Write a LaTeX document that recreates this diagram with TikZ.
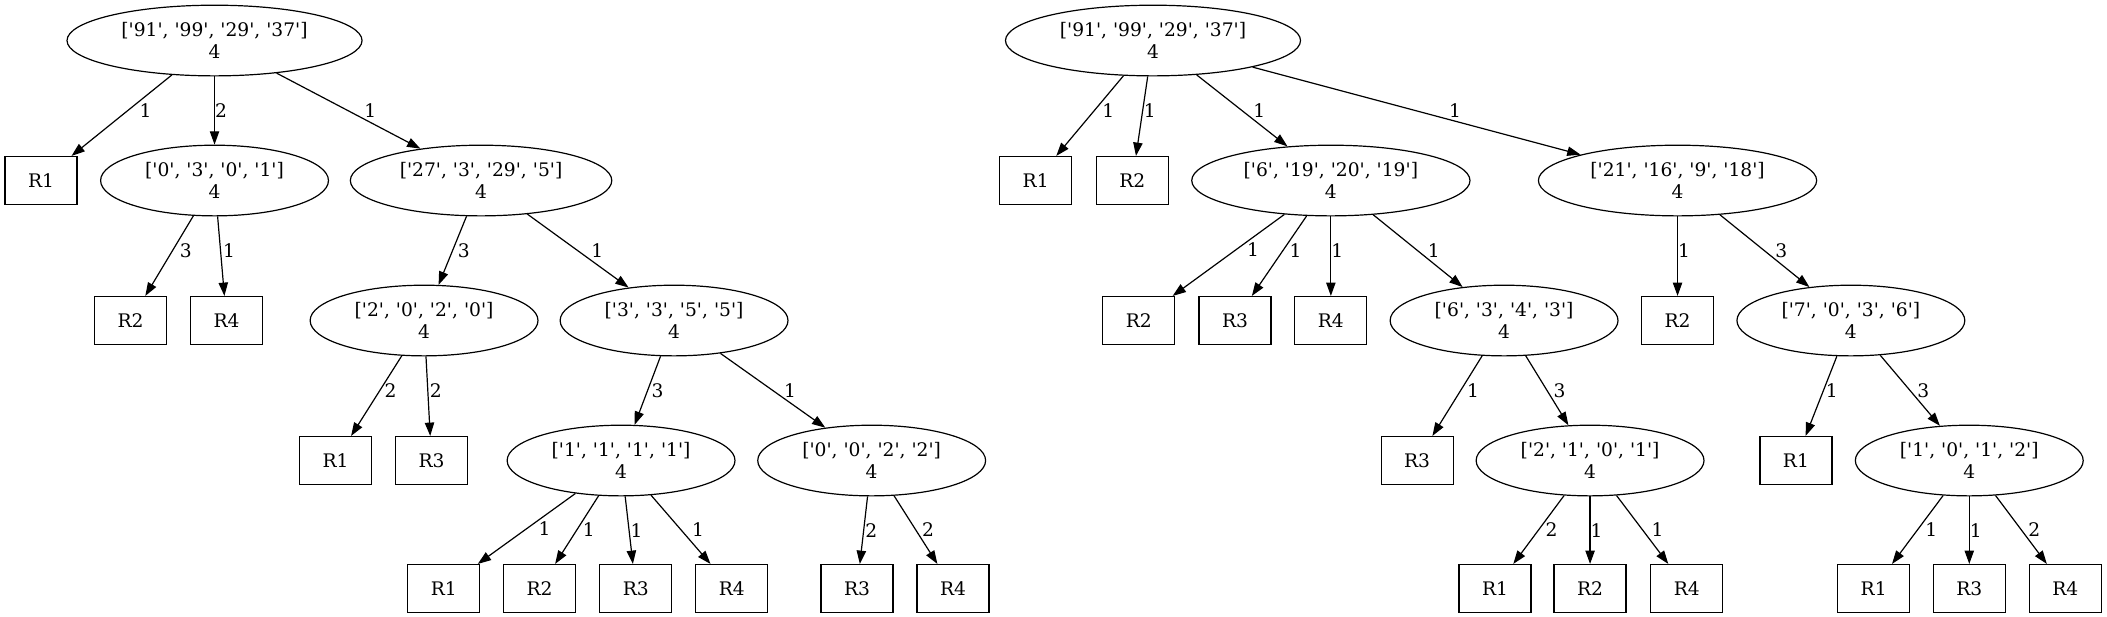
\documentclass[tikz,border=0pt]{standalone}
\usepackage{fontspec}
\newfontfamily\gvfont{DejaVu Serif}
\usetikzlibrary{positioning,shapes.geometric,arrows.meta}

\begin{document}
\begin{tikzpicture}[
      every node/.style={font=\gvfont\fontsize{14}{16}\selectfont},
      state/.style={draw, ellipse, line width=0.9pt, align=center, inner xsep=8.4pt, inner ysep=0pt, minimum height=53pt},
      leaf/.style={draw, rectangle, line width=0.9pt, minimum width=54pt, minimum height=36pt},
      arrow/.style={-{Triangle[length=10pt, width=7pt]}, line width=0.9pt},
      lbl/.style={midway, right, inner sep=0pt},
      lblb/.style={lbl, yshift=4pt},
      on grid
    ]
      \useasboundingbox (0,0) rectangle (1580.25pt,-462.75pt);
      % left tree
      \node[state] (a) at (160.9pt,-30.4pt) {['91', '99', '29', '37']\\4};
      \node[leaf,below left=105pt and 130.1pt of a] (a1) {R1};
      \node[state,below=105pt of a] (a2) {['0', '3', '0', '1']\\4};
      \node[state,below right=105pt and 199.9pt of a] (a3) {['27', '3', '29', '5']\\4};
      \node[leaf,below left=105pt and 63pt of a2] (a21) {R2};
      \node[leaf,below right=105pt and 9pt of a2] (a22) {R4};
      \node[state,below left=105pt and 42.75pt of a3] (a31) {['2', '0', '2', '0']\\4};
      \node[state,below right=105pt and 144.75pt of a3] (a32) {['3', '3', '5', '5']\\4};
      \node[leaf,below left=105pt and 66.4pt of a31] (a311) {R1};
      \node[leaf,below right=105pt and 5.6pt of a31] (a312) {R3};
      \node[state,below left=105pt and 39.75pt of a32] (a321) {['1', '1', '1', '1']\\4};
      \node[state,below right=105pt and 148.2pt of a32] (a322) {['0', '0', '2', '2']\\4};
      \node[leaf,below left=96pt and 133pt of a321] (a3211) {R1};
      \node[leaf,below left=96pt and 61.2pt of a321] (a3212) {R2};
      \node[leaf,below right=96pt and 11pt of a321] (a3213) {R3};
      \node[leaf,below right=96pt and 83pt of a321] (a3214) {R4};
      \node[leaf,below left=96pt and 11pt of a322] (a3221) {R3};
      \node[leaf,below right=96pt and 61pt of a322] (a3222) {R4};
      \draw[arrow] (a) -- node[lblb,xshift=13pt] {1} (a1);
      \draw[arrow] (a) -- node[lbl] {2} (a2);
      \draw[arrow] (a) -- node[lbl,xshift=11.5pt] {1} (a3);
      \draw[arrow] (a2) -- node[lblb,xshift=7.5pt] {3} (a21);
      \draw[arrow] (a2) -- node[lblb,xshift=1.2pt] {1} (a22);
      \draw[arrow] (a3) -- node[lbl,xshift=3.5pt] {3} (a31);
      \draw[arrow] (a3) -- node[lbl,xshift=9.5pt] {1} (a32);
      \draw[arrow] (a31) -- node[lblb,xshift=5.6pt] {2} (a311);
      \draw[arrow] (a31) -- node[lblb,xshift=0.8pt] {2} (a312);
      \draw[arrow] (a32) -- node[lbl,xshift=2.5pt] {3} (a321);
      \draw[arrow] (a32) -- node[lbl,xshift=8pt] {1} (a322);
      \draw[arrow] (a321) -- node[lbl,xshift=8.5pt] {1} (a3211);
      \draw[arrow] (a321) -- node[lbl,xshift=4pt] {1} (a3212);
      \draw[arrow] (a321) -- node[lbl,xshift=0.8pt] {1} (a3213);
      \draw[arrow] (a321) -- node[lbl,xshift=8.1pt] {1} (a3214);
      \draw[arrow] (a322) -- node[lbl,xshift=0.9pt] {2} (a3221);
      \draw[arrow] (a322) -- node[lbl,xshift=4.4pt] {2} (a3222);
      % right tree
      \node[state] (b) at (864.75pt,-30.4pt) {['91', '99', '29', '37']\\4};
      \node[leaf,below left=105pt and 88pt of b] (b1) {R1};
      \node[leaf,below left=105pt and 15.5pt of b] (b2) {R2};
      \node[state,below right=105pt and 133.4pt of b] (b3) {['6', '19', '20', '19']\\4};
      \node[state,below right=105pt and 393.4pt of b] (b4) {['21', '16', '9', '18']\\4};
      \node[leaf,below left=105pt and 144pt of b3] (b31) {R2};
      \node[leaf,below left=105pt and 71.9pt of b3] (b32) {R3};
      \node[leaf,below=105pt of b3] (b33) {R4};
      \node[state,below right=105pt and 129.9pt of b3] (b34) {['6', '3', '4', '3']\\4};
      \node[leaf,below=105pt of b4] (b41) {R2};
      \node[state,below right=105pt and 130pt of b4] (b42) {['7', '0', '3', '6']\\4};
      \node[leaf,below left=105pt and 65.2pt of b34] (b341) {R3};
      \node[state,below right=105pt and 64.5pt of b34] (b342) {['2', '1', '0', '1']\\4};
      \node[leaf,below left=105pt and 41.2pt of b42] (b421) {R1};
      \node[state,below right=105pt and 88.8pt of b42] (b422) {['1', '0', '1', '2']\\4};
      \node[leaf,below left=96pt and 71.25pt of b342] (b3421) {R1};
      \node[leaf,below=96pt of b342] (b3422) {R2};
      \node[leaf,below right=96pt and 72.6pt of b342] (b3423) {R4};
      \node[leaf,below left=96pt and 71.7pt of b422] (b4221) {R1};
      \node[leaf,below=96pt of b422] (b4222) {R3};
      \node[leaf,below right=96pt and 72pt of b422] (b4223) {R4};
      \draw[arrow] (b) -- node[lblb,xshift=8.9pt] {1} (b1);
      \draw[arrow] (b) -- node[lblb,xshift=1.1pt] {1} (b2);
      \draw[arrow] (b) -- node[lbl,xshift=8pt] {1} (b3);
      \draw[arrow] (b) -- node[lbl,xshift=24pt] {1} (b4);
      \draw[arrow] (b3) -- node[lblb,xshift=13.6pt] {1} (b31);
      \draw[arrow] (b3) -- node[lblb,xshift=7.3pt] {1} (b32);
      \draw[arrow] (b3) -- node[lblb] {1} (b33);
      \draw[arrow] (b3) -- node[lbl,xshift=7pt] {1} (b34);
      \draw[arrow] (b4) -- node[lblb] {1} (b41);
      \draw[arrow] (b4) -- node[lbl,xshift=7.5pt] {3} (b42);
      \draw[arrow] (b34) -- node[lblb,xshift=7pt] {1} (b341);
      \draw[arrow] (b34) -- node[lbl,xshift=4.5pt] {3} (b342);
      \draw[arrow] (b42) -- node[lblb,xshift=3.1pt] {1} (b421);
      \draw[arrow] (b42) -- node[lbl,xshift=5pt] {3} (b422);
      \draw[arrow] (b342) -- node[lbl,xshift=4.7pt] {2} (b3421);
      \draw[arrow] (b342) -- node[lbl] {1} (b3422);
      \draw[arrow] (b342) -- node[lbl,xshift=6.5pt] {1} (b3423);
      \draw[arrow] (b422) -- node[lbl,xshift=5.3pt] {1} (b4221);
      \draw[arrow] (b422) -- node[lbl] {1} (b4222);
      \draw[arrow] (b422) -- node[lbl,xshift=5pt] {2} (b4223);
    \end{tikzpicture}
\end{document}
